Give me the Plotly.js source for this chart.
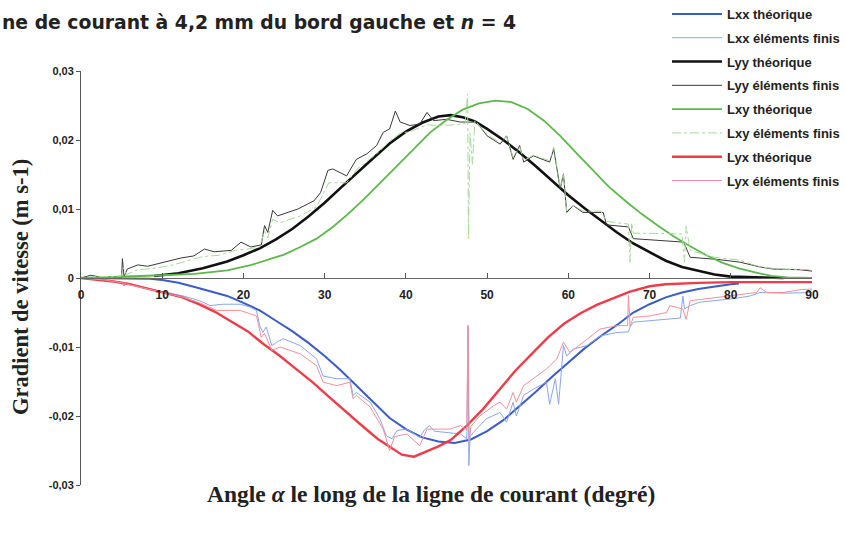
<!DOCTYPE html>
<html>
<head>
<meta charset="utf-8">
<script src="https://cdn.plot.ly/plotly-3.0.1.min.js"></script>
<style>html,body{margin:0;padding:0;background:#fff;}#chart{width:846px;height:534px;}</style>
</head>
<body>
<div id="chart"></div>
<script>
// ---- Data (angle in degrees, gradient in m s-1) ----
const lxxThX = [0,5,8.5,10,12,14,16,18,20,22,24,26,28,30,32,34,36,38,40,42,44,46,48,50,52,54,56,58,60,62,64,66,68,70,72,74,76,78,80,81];
const lxxThY = [0,0,-0.0001,-0.0003,-0.0007,-0.0013,-0.0019,-0.0026,-0.0036,-0.0047,-0.0062,-0.0077,-0.0094,-0.0113,-0.0134,-0.0157,-0.0181,-0.0203,-0.0219,-0.0231,-0.0237,-0.0239,-0.0234,-0.0222,-0.0206,-0.0186,-0.0165,-0.0143,-0.0122,-0.0102,-0.0084,-0.0068,-0.0050,-0.0038,-0.0028,-0.0021,-0.0016,-0.0012,-0.0009,-0.0008];

const lxxEfX = [0,3,5,5.3,5.6,8.5,10.5,12.6,14.6,15.9,17.5,19.6,20.8,21.6,22,22.4,22.8,23.5,24.1,24.9,27,29,29.8,31.5,33.1,33.5,33.9,35.6,36.8,37.6,38.3,38.9,40.1,41.7,42.3,42.9,43.5,45.4,46.7,47.5,47.65,47.75,47.9,48.3,49.9,51.6,52.4,53.2,53.6,54.5,55.7,57.3,57.7,58.4,58.8,59.4,59.8,60.6,62.3,63.9,66,67.4,67.6,68,70,72.1,73.8,74.1,74.3,75,76.2,80.3,82.4,83.6,86.5,90];
const lxxEfY = [0,-0.0003,-0.0006,-0.0012,-0.0007,-0.0016,-0.0021,-0.0026,-0.0033,-0.0040,-0.0038,-0.0038,-0.0042,-0.0047,-0.0069,-0.0079,-0.0071,-0.0098,-0.0093,-0.0088,-0.0098,-0.0117,-0.0142,-0.0146,-0.0146,-0.0170,-0.0166,-0.0180,-0.0204,-0.0229,-0.0233,-0.0221,-0.0219,-0.0231,-0.0220,-0.0214,-0.0222,-0.0224,-0.0226,-0.0233,-0.0069,-0.0272,-0.0230,-0.0224,-0.0204,-0.0195,-0.0209,-0.0180,-0.0200,-0.0170,-0.0161,-0.0151,-0.0183,-0.0146,-0.0183,-0.0098,-0.0113,-0.0103,-0.0098,-0.0084,-0.0079,-0.0078,-0.0071,-0.0064,-0.0062,-0.0060,-0.0058,-0.0026,-0.0045,-0.0040,-0.0035,-0.0030,-0.0026,-0.0021,-0.0022,-0.0021];

const lyyThX = [9,12,15,18,20,22,24,26,28,30,32,34,36,38,40,42,44,45.5,47,48.5,50,52,54,56,58,60,62,64,66,68,70,72,74,76,78,80,83,86.5];
const lyyThY = [0.0003,0.0007,0.0014,0.0024,0.0033,0.0043,0.0056,0.0071,0.0089,0.0109,0.0131,0.0153,0.0174,0.0195,0.0212,0.0225,0.0234,0.0236,0.0233,0.0227,0.0216,0.0200,0.0182,0.0162,0.0141,0.0120,0.0101,0.0083,0.0066,0.0050,0.0037,0.0025,0.0016,0.0010,0.0005,0.0002,0.0001,0];

const lyyEfX = [0,1.2,2.5,5,5.1,5.3,5.7,7,8.2,10.3,12.3,13.9,15.2,16.4,18.5,19.7,20.9,22.2,22.6,23,23.6,24.2,25,26.7,28.7,29.5,30.4,31,32.7,33.9,35.2,36.4,37.2,38,38.7,39.3,40.5,41.7,42.6,43.4,45,46.7,47.5,48.7,50,51.6,52.4,53.2,54,54.5,55.7,57.7,58.2,59,59.4,59.8,60.6,61.8,64.3,64.7,67.4,68,74.2,75,78.3,79.5,81.1,83.6,85.2,88.5,90];
const lyyEfY = [0,0.0004,0.0001,0.0001,0.0028,0.0002,0.0013,0.0019,0.0017,0.0023,0.0029,0.0032,0.0042,0.0038,0.0040,0.0052,0.0045,0.0048,0.0076,0.0066,0.0098,0.0090,0.0093,0.0100,0.0112,0.0124,0.0156,0.0158,0.0148,0.0172,0.0180,0.0192,0.0211,0.0216,0.0242,0.0226,0.0221,0.0223,0.0240,0.0228,0.0230,0.0226,0.0226,0.0226,0.0206,0.0194,0.0206,0.0172,0.0192,0.0168,0.0177,0.0168,0.0187,0.0129,0.0151,0.0095,0.0105,0.0095,0.0095,0.0077,0.0074,0.0057,0.0052,0.0030,0.0027,0.0025,0.0023,0.0016,0.0013,0.0012,0.0010];

const lxyThX = [0,3,6,10,14,18,21,23,25,27,29,31,33,35,37,39,41,43,45,47,49,51,53,55,57,59,61,63,65,67,69,71,73,75,77,79,81,83,85,87,90];
const lxyThY = [0,0.0001,0.0002,0.0004,0.0006,0.0011,0.0019,0.0026,0.0034,0.0045,0.0057,0.0074,0.0094,0.0116,0.0140,0.0164,0.0188,0.0211,0.0229,0.0244,0.0253,0.0257,0.0255,0.0245,0.0228,0.0206,0.0181,0.0156,0.0132,0.0112,0.0093,0.0076,0.0060,0.0046,0.0033,0.0022,0.0014,0.0008,0.0003,0.0001,0];

const lxyEfX = [0,2,4,5,5.2,5.6,7,9,11,13,15,17,19,20.5,22,22.6,23,23.6,24.5,27,29,30.5,32.7,34,36.4,38,39.3,40.5,42.6,44,46,47.3,47.6,47.7,47.9,48.2,48.5,50,51.6,52.4,53.2,54,54.5,55.7,57.7,58.2,59,59.4,59.8,60.6,61.8,64,64.7,67.4,67.6,67.8,68,74,74.3,74.5,75,78,81,83.6,86,90];
const lxyEfY = [0,0.0002,0.0002,0.0003,0.0015,0.0005,0.0012,0.0014,0.0018,0.0024,0.0031,0.0033,0.0040,0.0042,0.0045,0.0068,0.0058,0.0085,0.0080,0.0090,0.0103,0.0138,0.0138,0.0158,0.0180,0.0198,0.0210,0.0212,0.0222,0.0221,0.0222,0.0224,0.0267,0.0057,0.0210,0.0165,0.0228,0.0208,0.0196,0.0205,0.0175,0.0190,0.0170,0.0178,0.0170,0.0190,0.0132,0.0150,0.0097,0.0105,0.0097,0.0097,0.0082,0.0078,0.0023,0.0080,0.0065,0.0064,0.0023,0.0075,0.0040,0.0030,0.0026,0.0016,0.0013,0.0012];

const lyxThX = [0,2,4,6,8.5,10.5,12.5,14.5,16.5,18.5,20.5,22.5,24.5,26.5,28.5,30.5,32.5,34.5,36.5,38,39.5,41,42.5,44,45.5,47.5,49.5,51.5,53.5,55.5,57.5,59.5,61.5,63.5,65.5,67.5,70,72,76,80,90];
const lyxThY = [0,-0.0002,-0.0005,-0.0009,-0.0016,-0.0022,-0.0028,-0.0038,-0.0049,-0.0063,-0.0077,-0.0096,-0.0113,-0.0132,-0.0151,-0.0172,-0.0193,-0.0213,-0.0233,-0.0244,-0.0256,-0.0259,-0.0252,-0.0244,-0.0235,-0.0214,-0.0190,-0.0162,-0.0134,-0.0110,-0.0086,-0.0066,-0.0051,-0.0039,-0.0029,-0.0020,-0.0012,-0.0009,-0.0007,-0.0006,-0.0006];

const lyxEfX = [0,3,5,8.5,10.5,12.6,14.6,16.7,19.6,20.8,21.6,22.2,22.6,23.5,24.5,27,29,29.8,31.5,33.1,33.5,33.9,35.6,37.2,38,38.6,40.1,41.7,42.6,45.4,46.7,47.5,47.65,47.8,48,49.1,50.8,51.6,52.4,53.2,53.6,54.5,55.7,57.3,58.6,59.4,60.2,61.8,63.9,66,67.3,67.4,67.6,68,70,72.1,72.5,74.1,74.5,75,78.3,80.3,83.2,83.6,84.4,86.5,88.5,90];
const lyxEfY = [0,-0.0003,-0.0007,-0.0017,-0.0023,-0.0028,-0.0036,-0.0047,-0.0047,-0.0052,-0.0055,-0.0086,-0.0080,-0.0105,-0.0100,-0.0110,-0.0127,-0.0151,-0.0156,-0.0151,-0.0175,-0.0170,-0.0187,-0.0219,-0.0250,-0.0230,-0.0226,-0.0243,-0.0219,-0.0219,-0.0214,-0.0220,-0.0069,-0.0241,-0.0215,-0.0200,-0.0185,-0.0180,-0.0190,-0.0166,-0.0180,-0.0156,-0.0146,-0.0132,-0.0117,-0.0093,-0.0108,-0.0093,-0.0074,-0.0069,-0.0069,-0.0025,-0.0070,-0.0057,-0.0055,-0.0050,-0.0040,-0.0045,-0.0060,-0.0033,-0.0028,-0.0026,-0.0021,-0.0014,-0.0021,-0.0021,-0.0017,-0.0016];

const seriesNames = ['Lxx théorique','Lxx éléments finis','Lyy théorique','Lyy éléments finis','Lxy théorique','Lxy éléments finis','Lyx théorique','Lyx éléments finis'];
const yTickVals = [-0.03,-0.02,-0.01,0,0.01,0.02,0.03];
const yTickText = ['-0,03','-0,02','-0,01','0','0,01','0,02','0,03'];
const xTickVals = [0,10,20,30,40,50,60,70,80,90];

const xs = [lxxThX,lxxEfX,lyyThX,lyyEfX,lxyThX,lxyEfX,lyxThX,lyxEfX];
const ys = [lxxThY,lxxEfY,lyyThY,lyyEfY,lxyThY,lxyEfY,lyxThY,lyxEfY];
const styles = [
  {color:'#3b5cc6', width:2},
  {color:'#8aa6ee', width:1},
  {color:'#111111', width:2.6},
  {color:'#3a3a3a', width:1},
  {color:'#5cb84a', width:1.8},
  {color:'#a6d996', width:1, dash:'dashdot'},
  {color:'#ee3c4a', width:2.4},
  {color:'#f0909c', width:1}
];

const traces = seriesNames.map((n,i) => ({
  type:'scatter', mode:'lines', name:n, x:xs[i], y:ys[i],
  line:Object.assign({shape:'linear'}, styles[i]),
  legendgroup:'g'+i, hoverinfo:'skip'
}));

const layout = {
  width:846, height:534,
  margin:{l:81, r:34, t:71, b:49, autoexpand:false},
  paper_bgcolor:'#ffffff', plot_bgcolor:'#ffffff',
  showlegend:true,
  legend:{
    x:0.8016, xanchor:'left', y:1.174, yanchor:'top',
    bgcolor:'rgba(0,0,0,0)', borderwidth:0,
    font:{family:'Liberation Sans, Arial, sans-serif', size:13, color:'#222', weight:'bold'},
    traceorder:'grouped', tracegroupgap:3.9, itemwidth:50
  },
  xaxis:{
    range:[0,90], anchor:'free', position:0.5,
    tickvals:xTickVals, ticks:'inside', ticklen:5, tickcolor:'#555',
    showline:true, linecolor:'#666', linewidth:1,
    showgrid:false, zeroline:false, ticklabelstandoff:6,
    tickfont:{family:'Liberation Sans Narrow, Liberation Sans, Arial', size:12, color:'#222', weight:'bold'}
  },
  yaxis:{
    range:[-0.03,0.03], tickvals:yTickVals, ticktext:yTickText,
    ticks:'outside', ticklen:4, tickcolor:'#555',
    showline:true, linecolor:'#555', linewidth:1,
    showgrid:false, zeroline:false,
    tickfont:{family:'Liberation Sans Narrow, Liberation Sans, Arial', size:11, color:'#222', weight:'bold'}
  },
  annotations:[
    {text:'ne de courant à 4,2 mm du bord gauche et <i>n</i> = 4', xref:'paper', yref:'paper',
     x:-0.1108, xanchor:'left', y:1.118, yanchor:'middle', showarrow:false,
     font:{family:'DejaVu Sans, Liberation Sans, Arial', size:18.8, color:'#222', weight:'bold'}},
    {text:'Angle <i>α</i> le long de la ligne de courant (degré)', xref:'paper', yref:'paper',
     x:0.479, xanchor:'center', y:-0.0217, yanchor:'middle', showarrow:false,
     font:{family:'Liberation Serif, Times New Roman, serif', size:23.5, color:'#222', weight:'bold'}},
    {text:'Gradient de vitesse (m s-1)', xref:'paper', yref:'paper',
     x:-0.083, xanchor:'center', y:0.479, yanchor:'middle', showarrow:false, textangle:-90,
     font:{family:'Liberation Serif, Times New Roman, serif', size:22.5, color:'#222', weight:'bold'}}
  ]
};

Plotly.newPlot('chart', traces, layout, {staticPlot:true, displayModeBar:false});
</script>
</body>
</html>
